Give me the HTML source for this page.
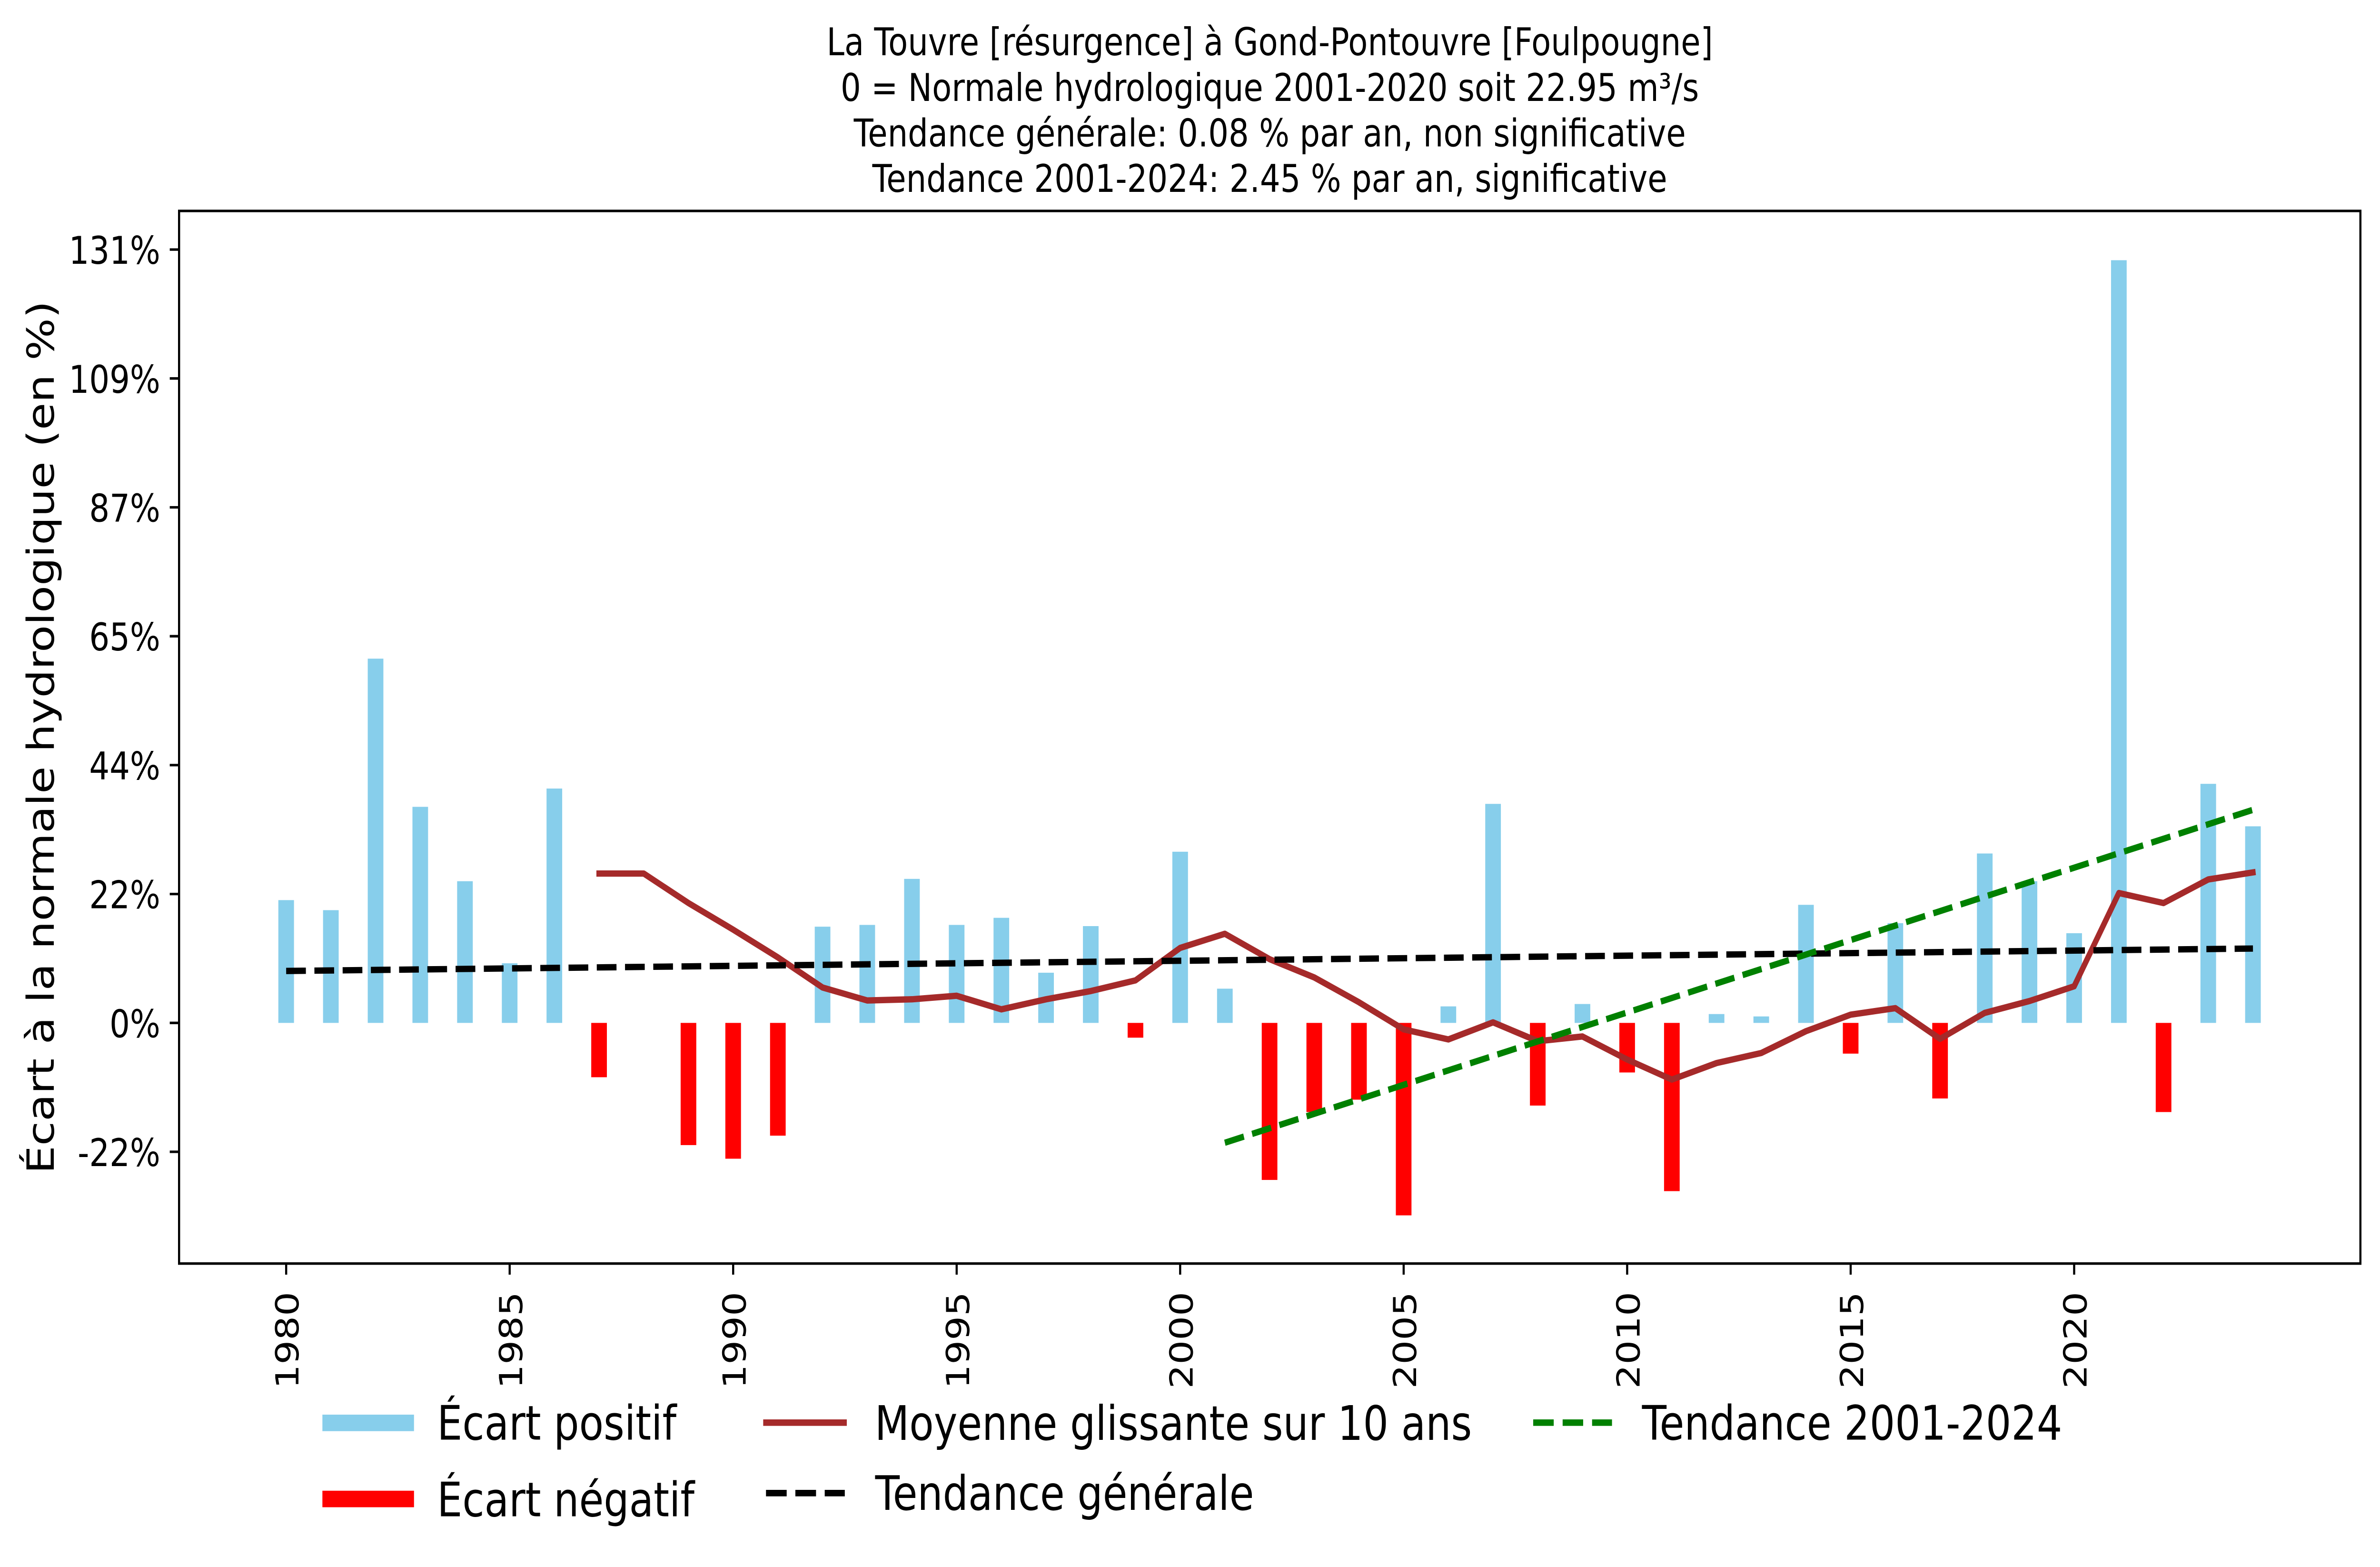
<!DOCTYPE html>
<html>
<head>
<meta charset="utf-8">
<meta name="viewport" content="width=device-width, initial-scale=1">
<style>
html,body{margin:0;padding:0;background:#fff;width:100%;height:100%;overflow:hidden;}
svg{display:block;width:100vw;height:100vh;}
text{font-family:"DejaVu Sans","Liberation Sans",sans-serif;fill:#000;}
</style>
</head>
<body>
<svg viewBox="0 0 5950 3291" preserveAspectRatio="none" xmlns="http://www.w3.org/2000/svg">
<rect x="0" y="0" width="5950" height="3291" fill="#fff"/>

<!-- Title -->
<g font-size="80" text-anchor="middle">
<text x="3174.5" y="116.2">La Touvre [résurgence] à Gond-Pontouvre [Foulpougne]</text>
<text x="3174.5" y="211.8">0 = Normale hydrologique 2001-2020 soit 22.95 m³/s</text>
<text x="3174.5" y="307.4">Tendance générale: 0.08 % par an, non significative</text>
<text x="3174.5" y="403">Tendance 2001-2024: 2.45 % par an, significative</text>
</g>

<!-- Positive bars -->
<g fill="#87ceeb">
<rect x="695.85" y="1890.4" width="39.1" height="257.9"/>
<rect x="807.6" y="1911.5" width="39.1" height="236.8"/>
<rect x="919.35" y="1383.3" width="39.1" height="765.0"/>
<rect x="1031.1" y="1694.5" width="39.1" height="453.8"/>
<rect x="1142.85" y="1850.7" width="39.1" height="297.6"/>
<rect x="1254.6" y="2023.1" width="39.1" height="125.2"/>
<rect x="1366.35" y="1656.1" width="39.1" height="492.2"/>
<rect x="2036.85" y="1946.2" width="39.1" height="202.1"/>
<rect x="2148.6" y="1942.5" width="39.1" height="205.8"/>
<rect x="2260.35" y="1845.8" width="39.1" height="302.5"/>
<rect x="2372.1" y="1942.5" width="39.1" height="205.8"/>
<rect x="2483.85" y="1927.6" width="39.1" height="220.7"/>
<rect x="2595.6" y="2042.9" width="39.1" height="105.4"/>
<rect x="2707.35" y="1945.0" width="39.1" height="203.3"/>
<rect x="2930.85" y="1788.8" width="39.1" height="359.5"/>
<rect x="3042.6" y="2076.4" width="39.1" height="71.9"/>
<rect x="3601.35" y="2113.6" width="39.1" height="34.7"/>
<rect x="3713.1" y="1688.3" width="39.1" height="460.0"/>
<rect x="3936.6" y="2108.6" width="39.1" height="39.7"/>
<rect x="4271.85" y="2129.7" width="39.1" height="18.6"/>
<rect x="4383.6" y="2134.7" width="39.1" height="13.6"/>
<rect x="4495.35" y="1900.3" width="39.1" height="248.0"/>
<rect x="4718.85" y="1938.8" width="39.1" height="209.5"/>
<rect x="4942.35" y="1792.5" width="39.1" height="355.8"/>
<rect x="5054.1" y="1850.7" width="39.1" height="297.6"/>
<rect x="5165.85" y="1959.9" width="39.1" height="188.4"/>
<rect x="5277.6" y="546.5" width="39.1" height="1601.8"/>
<rect x="5501.1" y="1646.2" width="39.1" height="502.1"/>
<rect x="5612.85" y="1735.4" width="39.1" height="412.9"/>
</g>

<!-- Negative bars -->
<g fill="#ff0000">
<rect x="1478.1" y="2148.3" width="39.1" height="114.1"/>
<rect x="1701.6" y="2148.3" width="39.1" height="256.6"/>
<rect x="1813.35" y="2148.3" width="39.1" height="285.2"/>
<rect x="1925.1" y="2148.3" width="39.1" height="236.8"/>
<rect x="2819.1" y="2148.3" width="39.1" height="31.0"/>
<rect x="3154.35" y="2148.3" width="39.1" height="329.8"/>
<rect x="3266.1" y="2148.3" width="39.1" height="187.2"/>
<rect x="3377.85" y="2148.3" width="39.1" height="161.2"/>
<rect x="3489.6" y="2148.3" width="39.1" height="404.2"/>
<rect x="3824.85" y="2148.3" width="39.1" height="173.6"/>
<rect x="4048.35" y="2148.3" width="39.1" height="104.1"/>
<rect x="4160.1" y="2148.3" width="39.1" height="353.3"/>
<rect x="4607.1" y="2148.3" width="39.1" height="64.5"/>
<rect x="4830.6" y="2148.3" width="39.1" height="158.7"/>
<rect x="5389.35" y="2148.3" width="39.1" height="187.2"/>
</g>

<!-- Moving average -->
<polyline fill="none" stroke="#a52a2a" stroke-width="13.3" stroke-linejoin="round" stroke-linecap="square"
points="1497.65,1834.6 1609.4,1834.6 1721.15,1896.6 1832.9,1952.4 1944.65,2010.7 2056.4,2073.9 2168.15,2101.2 2279.9,2098.7 2391.65,2091.3 2503.4,2119.8 2615.15,2098.7 2726.9,2081.4 2838.65,2059.0 2950.4,1990.8 3062.15,1961.1 3173.9,2014.4 3285.65,2052.8 3397.4,2104.9 3509.15,2161.9 3620.9,2183.0 3732.65,2147.1 3844.4,2186.7 3956.15,2176.8 4067.9,2225.2 4179.65,2267.3 4291.4,2232.6 4403.15,2211.5 4514.9,2165.7 4626.65,2131.0 4738.4,2117.3 4850.15,2181.8 4961.9,2127.2 5073.65,2102.4 5185.4,2071.4 5297.15,1875.5 5408.9,1896.6 5520.65,1847.0 5632.4,1832.2"/>

<!-- General trend -->
<line x1="715.4" y1="2039.2" x2="5632.4" y2="1992.1" stroke="#000" stroke-width="13.3" stroke-dasharray="49.3 21.3" stroke-linecap="butt"/>
<!-- Trend 2001-2024 -->
<line x1="3062.15" y1="2400.0" x2="5632.4" y2="1700.7" stroke="#008000" stroke-width="13.3" stroke-dasharray="49.3 21.3" stroke-linecap="butt"/>

<!-- Axes frame -->
<rect x="447.7" y="443" width="5453.3" height="2210.7" fill="none" stroke="#000" stroke-width="5.3" stroke-linejoin="miter"/>

<!-- Y ticks -->
<g stroke="#000" stroke-width="5.3">
<line x1="424.4" y1="524.1" x2="447.7" y2="524.1"/>
<line x1="424.4" y1="794.8" x2="447.7" y2="794.8"/>
<line x1="424.4" y1="1065.5" x2="447.7" y2="1065.5"/>
<line x1="424.4" y1="1336.2" x2="447.7" y2="1336.2"/>
<line x1="424.4" y1="1606.9" x2="447.7" y2="1606.9"/>
<line x1="424.4" y1="1877.6" x2="447.7" y2="1877.6"/>
<line x1="424.4" y1="2148.3" x2="447.7" y2="2148.3"/>
<line x1="424.4" y1="2419.0" x2="447.7" y2="2419.0"/>
</g>
<g font-size="80" text-anchor="end">
<text x="400.7" y="554.1">131%</text>
<text x="400.7" y="824.8">109%</text>
<text x="400.7" y="1095.5">87%</text>
<text x="400.7" y="1366.2">65%</text>
<text x="400.7" y="1636.9">44%</text>
<text x="400.7" y="1907.6">22%</text>
<text x="400.7" y="2178.3">0%</text>
<text x="400.7" y="2449.0">-22%</text>
</g>

<!-- X ticks -->
<g stroke="#000" stroke-width="5.3">
<line x1="715.4" y1="2653.7" x2="715.4" y2="2677"/>
<line x1="1274.15" y1="2653.7" x2="1274.15" y2="2677"/>
<line x1="1832.9" y1="2653.7" x2="1832.9" y2="2677"/>
<line x1="2391.65" y1="2653.7" x2="2391.65" y2="2677"/>
<line x1="2950.4" y1="2653.7" x2="2950.4" y2="2677"/>
<line x1="3509.15" y1="2653.7" x2="3509.15" y2="2677"/>
<line x1="4067.9" y1="2653.7" x2="4067.9" y2="2677"/>
<line x1="4626.65" y1="2653.7" x2="4626.65" y2="2677"/>
<line x1="5185.4" y1="2653.7" x2="5185.4" y2="2677"/>
</g>
<g font-size="80" text-anchor="end">
<text transform="translate(746.4,2713) rotate(-90)">1980</text>
<text transform="translate(1305.15,2713) rotate(-90)">1985</text>
<text transform="translate(1863.9,2713) rotate(-90)">1990</text>
<text transform="translate(2422.65,2713) rotate(-90)">1995</text>
<text transform="translate(2981.4,2713) rotate(-90)">2000</text>
<text transform="translate(3540.15,2713) rotate(-90)">2005</text>
<text transform="translate(4098.9,2713) rotate(-90)">2010</text>
<text transform="translate(4657.65,2713) rotate(-90)">2015</text>
<text transform="translate(5216.4,2713) rotate(-90)">2020</text>
</g>

<!-- Y label -->
<text transform="translate(134.7,1548.5) rotate(-90)" font-size="93.3" text-anchor="middle">Écart à la normale hydrologique (en %)</text>

<!-- Legend -->
<rect x="806" y="2971" width="229" height="34.7" fill="#87ceeb"/>
<rect x="806" y="3130.8" width="229" height="34.7" fill="#ff0000"/>
<g font-size="100">
<text x="1092.8" y="3023.4">Écart positif</text>
<text x="1092.8" y="3184.4">Écart négatif</text>
</g>
<line x1="1908" y1="2987.8" x2="2117" y2="2987.8" stroke="#a52a2a" stroke-width="13.7"/>
<line x1="1915" y1="3135.8" x2="2112" y2="3135.8" stroke="#000" stroke-width="13.7" stroke-dasharray="51.7 21.7"/>
<g font-size="100">
<text x="2187" y="3024">Moyenne glissante sur 10 ans</text>
<text x="2188" y="3171">Tendance générale</text>
</g>
<line x1="3833" y1="2987.8" x2="4030" y2="2987.8" stroke="#008000" stroke-width="13.7" stroke-dasharray="51.3 22.3"/>
<text x="4105" y="3023.3" font-size="100">Tendance 2001-2024</text>
</svg>
</body>
</html>
